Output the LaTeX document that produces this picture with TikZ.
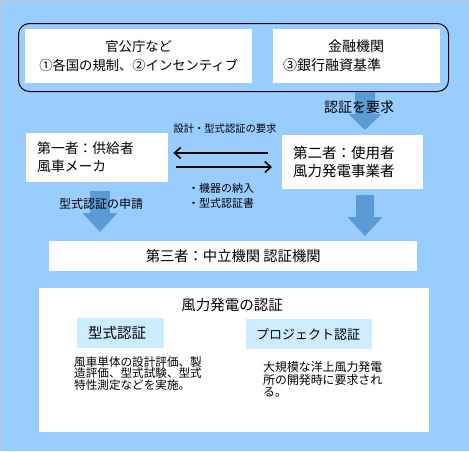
\documentclass[tikz,border=0pt]{standalone}
\usepackage{fontspec}
\setmainfont{Noto Sans CJK JP}
\usetikzlibrary{arrows.meta}
\definecolor{skyblue}{HTML}{99CCFF}
\definecolor{paleblue}{HTML}{CCECFF}
\definecolor{arrowblue}{HTML}{5B9BD5}
\newcommand\fsz[2]{\fontsize{#1}{#2}\selectfont}
\begin{document}
\begin{tikzpicture}[x=1pt,y=-1pt,
    box/.style={fill=white,anchor=north west,inner sep=0pt,align=left},
    tag/.style={fill=paleblue,anchor=north west,inner sep=0pt,align=left},
    bigarrow/.style={draw=arrowblue,-{Triangle[width=34pt,length=19pt]}},
    thinarrow/.style={line width=1.6pt,-{Straight Barb[length=6pt,width=11pt]}}]
      \useasboundingbox (0,0) rectangle (469,451);
      \fill[skyblue] (0,0) rectangle (469,451);
      \draw[black!22,line width=1pt] (0.5,451) -- (0.5,0.5) -- (469,0.5);
      % sources of the demand
      \node[draw,line width=1pt,rounded corners=11pt,anchor=north west,inner sep=0pt,
            minimum width=430pt,minimum height=68pt] (rules) at (18,23) {};
      \node[box,align=center,text width=227pt,minimum height=54pt,font={\fsz{13.3}{19}}] (gov) at (25,29)
        {官公庁など\\①各国の規制、②インセンティブ};
      \node[box,inner xsep=10pt,text width=147pt,minimum height=54pt,font={\fsz{14}{19}}] (bank) at (273,29)
        {\hspace*{45pt}金融機関\\③銀行融資基準};
      % first and second party
      \node[box,inner xsep=11pt,text width=120pt,minimum height=49pt,font={\fsz{13.8}{18}}] (maker) at (26,133)
        {第一者：供給者\\風車メーカ};
      \node[box,inner xsep=11pt,text width=119pt,minimum height=54pt,font={\fsz{14.5}{18}}] (operator) at (282,135)
        {第二者：使用者\\風力発電事業者};
      % third party
      \node[box,align=center,minimum width=368pt,minimum height=30pt,font={\fsz{14.3}{18}}] (neutral) at (49,241)
        {第三者：中立機関 認証機関};
      % certification scheme
      \node[box,minimum width=390pt,minimum height=144pt] (scheme) at (39,288) {};
      \node[font={\fsz{14.5}{18}}] (title) at (232,305) {風力発電の認証};
      \node[tag,inner xsep=11pt,text width=65pt,minimum height=30pt,font={\fsz{14.5}{18}}] (typecert) at (77,318)
        {型式認証};
      \node[tag,inner xsep=10pt,text width=106pt,minimum height=30pt,font={\fsz{13}{18}}] (projcert) at (246,319)
        {プロジェクト認証};
      \node[anchor=base west,inner sep=0pt,align=left,font={\fsz{11.6}{11.6}}] (typetext) at (74,389.5)
        {風車単体の設計評価、製\\造評価、型式試験、型式\\特性測定などを実施。};
      \node[anchor=base west,inner sep=0pt,align=left,font={\fsz{11.9}{12.5}}] (projtext) at (263,396.5)
        {大規模な洋上風力発電\\所の開発時に要求され\\る。};
      % connectors
      \coordinate (reqx) at (365,0);
      \coordinate (applyx) at (100,0);
      \coordinate (upper) at (0,153);
      \coordinate (lower) at (0,167);
      \draw[bigarrow,line width=20pt,-{Triangle[width=32pt,length=16pt]},shorten >=5pt]
        (rules.south -| reqx) -- (operator.north -| reqx);
      \draw[bigarrow,line width=20pt,shorten <=9pt,shorten >=9pt]
        (maker.south -| applyx) -- (neutral.north -| applyx);
      \draw[bigarrow,line width=18pt,shorten <=6pt,shorten >=5pt]
        (operator.south -| reqx) -- (neutral.north -| reqx);
      \draw[thinarrow,shorten <=14pt,shorten >=5pt] (operator.west |- upper) -- (maker.east |- upper);
      \draw[thinarrow,shorten <=8pt,shorten >=10pt] (maker.east |- lower) -- (operator.west |- lower);
      % labels
      \node[font={\fsz{14}{18}}] (req) at (359,107) {認証を要求};
      \node[font={\fsz{10.3}{12}}] (spec) at (225,129) {設計・型式認証の要求};
      \node[anchor=base west,inner sep=0pt,align=left,font={\fsz{11}{15}}] (deliver) at (188,207)
        {・機器の納入\\・型式認証書};
      \node[font={\fsz{12}{14}}] (apply) at (101,204) {型式認証の申請};
\end{tikzpicture}
\end{document}
